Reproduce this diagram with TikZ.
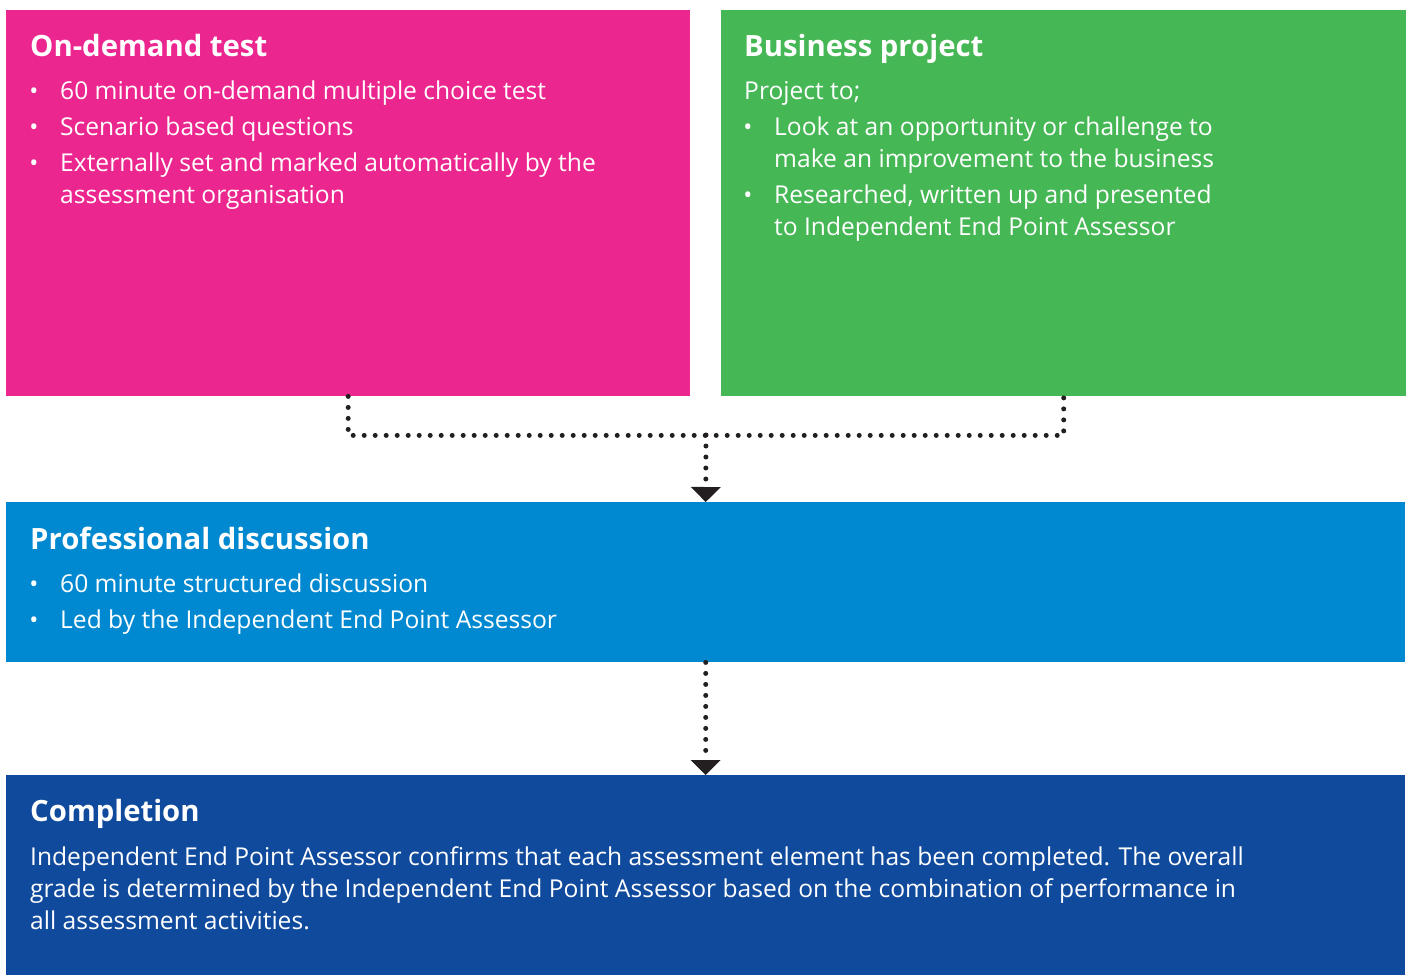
\documentclass[tikz,border=0pt]{standalone}
\usepackage{fontspec}
\setmainfont{Open Sans}
\usetikzlibrary{arrows.meta}
\definecolor{ondemandpink}{HTML}{EC268F}
\definecolor{projectgreen}{HTML}{45B754}
\definecolor{discussblue}{HTML}{0089D0}
\definecolor{completenavy}{HTML}{104A9D}
\definecolor{dotblack}{HTML}{231F20}
\begin{document}
\begin{tikzpicture}[x=1bp,y=-1bp,
  panel/.style={rectangle, draw=none, inner sep=0pt, anchor=north west},
  headline/.style={anchor=base west, inner sep=0pt, text=white,
    font=\fontsize{29.3bp}{36bp}\selectfont\bfseries},
  bodytext/.style={anchor=base west, inner sep=0pt, text=white,
    font=\fontsize{24.6bp}{32bp}\selectfont},
  bulletmark/.style={anchor=base, inner sep=0pt, text=white,
    font=\fontsize{24bp}{32bp}\selectfont},
  dotline/.style={draw=dotblack, line width=5bp, line cap=round,
    dash pattern=on 0bp off 11bp},
  tipline/.style={dotline, -{Triangle[width=30bp,length=15bp,line width=0pt]}},
]
\useasboundingbox (0,0) rectangle (1410,975);

% coloured panels
\node[panel, fill=ondemandpink, minimum width=684bp, minimum height=386bp] (ondemand) at (6,10) {};
\node[panel, fill=projectgreen, minimum width=685bp, minimum height=386bp] (project) at (721,10) {};
\node[panel, fill=discussblue, minimum width=1399bp, minimum height=160bp] (discussion) at (6,502) {};
\node[panel, fill=completenavy, minimum width=1399bp, minimum height=200bp] (completion) at (6,775) {};

% on-demand test
\node[headline] (odtitle) at (30,56) {On-demand test};
\node[bulletmark] (odb1) at (34,99) {•};
\node[bodytext] (odt1) at (60,99) {60 minute on-demand multiple choice test};
\node[bulletmark] (odb2) at (34,135) {•};
\node[bodytext] (odt2) at (60,135) {Scenario based questions};
\node[bulletmark] (odb3) at (34,171) {•};
\node[bodytext] (odt3a) at (60,171) {Externally set and marked automatically by the};
\node[bodytext] (odt3b) at (60,203) {assessment organisation};

% business project
\node[headline] (bptitle) at (744,56) {Business project};
\node[bodytext] (bpintro) at (744,99) {Project to;};
\node[bulletmark] (bpb1) at (748,135) {•};
\node[bodytext] (bpt1a) at (774,135) {Look at an opportunity or challenge to};
\node[bodytext] (bpt1b) at (774,167) {make an improvement to the business};
\node[bulletmark] (bpb2) at (748,203) {•};
\node[bodytext] (bpt2a) at (774,203) {Researched, written up and presented};
\node[bodytext] (bpt2b) at (774,235) {to Independent End Point Assessor};

% professional discussion
\node[headline] (pdtitle) at (30,549) {Professional discussion};
\node[bulletmark] (pdb1) at (34,592) {•};
\node[bodytext] (pdt1) at (60,592) {60 minute structured discussion};
\node[bulletmark] (pdb2) at (34,628) {•};
\node[bodytext] (pdt2) at (60,628) {Led by the Independent End Point Assessor};

% completion
\node[headline] (cptitle) at (30,821) {Completion};
\node[bodytext] (cpt1) at (30,865) {Independent End Point Assessor confirms that each assessment element has been completed. The overall};
\node[bodytext] (cpt2) at (30,897) {grade is determined by the Independent End Point Assessor based on the combination of performance in};
\node[bodytext] (cpt3) at (30,929) {all assessment activities.};

% dotted connectors
\coordinate (merge) at (706,435);
\draw[dotline] (ondemand.south) -- ++(0,39) -| (project.south);
\draw[tipline] (merge) -- (discussion.north);
\draw[tipline] (discussion.south) -- (completion.north);
\end{tikzpicture}
\end{document}
